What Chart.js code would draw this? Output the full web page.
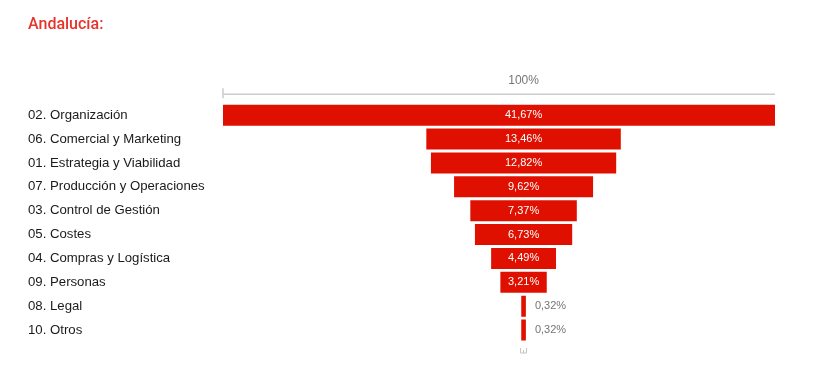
<!DOCTYPE html>
<html>
<head>
<meta charset="utf-8">
<script src="https://cdn.jsdelivr.net/npm/chart.js@4/dist/chart.umd.min.js"></script>
<style>
  html, body { margin: 0; padding: 0; background: #fff; }
  #wrap { width: 830px; height: 387px; }
</style>
</head>
<body>
<div id="wrap"><canvas id="funnelChart"></canvas></div>
<script>
var categories = [
    '02. Organización',
    '06. Comercial y Marketing',
    '01. Estrategia y Viabilidad',
    '07. Producción y Operaciones',
    '03. Control de Gestión',
    '05. Costes',
    '04. Compras y Logística',
    '09. Personas',
    '08. Legal',
    '10. Otros'
];
var percentages = [41.67, 13.46, 12.82, 9.62, 7.37, 6.73, 4.49, 3.21, 0.32, 0.32];
var topAxisLabel = '100%';
var axisMin = -20.8;
var axisMax = 17.4;

var barColor = '#e01000';
var fontFamily = '"Liberation Sans", Arial, sans-serif';

function fmt(v) {
    return v.toFixed(2).replace('.', ',') + '%';
}

// centred bars: each one goes from -v/2 to +v/2
var funnelData = percentages.map(function (v) { return [-v / 2, v / 2]; });

var funnelExtras = {
    id: 'funnelExtras',
    afterDatasetsDraw: function (chart) {
        var ctx = chart.ctx;
        var area = chart.chartArea;
        var x = chart.scales.x;
        var meta = chart.getDatasetMeta(0);
        var cx = x.getPixelForValue(0);

        ctx.save();
        // top axis line + label
        var lineY = area.top - 9;
        ctx.strokeStyle = '#cccccc';
        ctx.lineWidth = 1.5;
        ctx.beginPath();
        ctx.moveTo(area.left, lineY);
        ctx.lineTo(area.right, lineY);
        ctx.moveTo(area.left, lineY - 6);
        ctx.lineTo(area.left, lineY + 4);
        ctx.stroke();
        ctx.fillStyle = '#757575';
        ctx.font = '12px ' + fontFamily;
        ctx.textAlign = 'center';
        ctx.textBaseline = 'middle';
        ctx.fillText(topAxisLabel, cx, lineY - 14);

        // small bottom marker
        var by = area.bottom + 6;
        ctx.strokeStyle = '#c4c4c4';
        ctx.lineWidth = 1;
        ctx.beginPath();
        ctx.moveTo(cx - 3, by);
        ctx.lineTo(cx - 3, by + 5);
        ctx.lineTo(cx + 3, by + 5);
        ctx.lineTo(cx + 3, by);
        ctx.moveTo(cx, by + 2);
        ctx.lineTo(cx, by + 5);
        ctx.stroke();

        // value labels
        ctx.font = '11px ' + fontFamily;
        meta.data.forEach(function (bar, i) {
            var txt = fmt(percentages[i]);
            var w = Math.abs(bar.x - bar.base);
            var tw = ctx.measureText(txt).width;
            var right = Math.max(bar.x, bar.base);
            if (w > tw + 8) {
                ctx.fillStyle = '#ffffff';
                ctx.textAlign = 'center';
                ctx.fillText(txt, cx, bar.y);
            } else {
                ctx.fillStyle = '#757575';
                ctx.textAlign = 'left';
                ctx.fillText(txt, right + 9, bar.y);
            }
        });
        ctx.restore();
    }
};

new Chart(document.getElementById('funnelChart'), {
    type: 'bar',
    data: {
        labels: categories,
        datasets: [{
            data: funnelData,
            backgroundColor: barColor,
            borderWidth: 0,
            borderSkipped: false,
            barPercentage: 0.88,
            categoryPercentage: 1
        }]
    },
    options: {
        indexAxis: 'y',
        responsive: true,
        maintainAspectRatio: false,
        animation: false,
        layout: { padding: { left: 28, right: 55, top: 0, bottom: 45 } },
        plugins: {
            legend: { display: false },
            tooltip: { enabled: false },
            title: {
                display: true,
                text: 'Andalucía:',
                align: 'start',
                color: '#e8332b',
                font: { family: 'Roboto, ' + fontFamily, size: 16, weight: '500' },
                padding: { top: 15, bottom: 69 }
            }
        },
        scales: {
            x: {
                display: false,
                min: axisMin,
                max: axisMax
            },
            y: {
                grid: { display: false },
                border: { display: false },
                afterFit: function (scale) { scale.width = 195; },
                ticks: {
                    crossAlign: 'far',
                    color: '#1a1a1a',
                    font: { family: fontFamily, size: 13.2 }
                }
            }
        }
    },
    plugins: [funnelExtras]
});
</script>
</body>
</html>
